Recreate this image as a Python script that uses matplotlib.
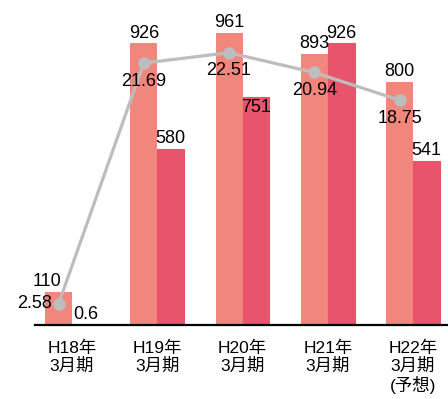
import matplotlib
matplotlib.use("Agg")
import matplotlib.pyplot as plt
import numpy as np

plt.rcParams['font.family'] = ['Liberation Sans', 'Noto Sans CJK JP', 'DejaVu Sans']

# 決算期ごとの値
periods = ["H18年\n3月期", "H19年\n3月期", "H20年\n3月期", "H21年\n3月期", "H22年\n3月期\n(予想)"]
sales = [110, 926, 961, 893, 800]
profit = [0.6, 580, 751, 926, 541]
ratio = [2.58, 21.69, 22.51, 20.94, 18.75]

c_sales = "#F0867C"
c_profit = "#E8546C"
c_line = "#BDBDBD"

fig = plt.figure(figsize=(4.48, 3.99), dpi=100)
ax = fig.add_axes([35 / 448, 74 / 399, 413 / 448, 325 / 399])

x = np.arange(len(periods))
w = 0.316
b1 = ax.bar(x - w / 2, sales, w, color=c_sales, zorder=2)
b2 = ax.bar(x + w / 2, profit, w, color=c_profit, edgecolor=c_profit,
            linewidth=0.8, zorder=2)

ax.set_xlim(-0.434, 4.41)
ax.set_ylim(0, 1069)
for s in ["top", "right", "left"]:
    ax.spines[s].set_visible(False)
ax.spines["bottom"].set_linewidth(1.6)
ax.set_yticks([])
ax.set_xticks(x)
ax.set_xticklabels(periods, fontsize=12.5, linespacing=1.15)
ax.tick_params(axis="x", length=0, pad=11)

# 棒グラフの数値ラベル
fs = 13
for i, v in enumerate(sales):
    dx = -8 if i == 0 else 0
    ax.annotate(f"{v}", (x[i] - w / 2, v), xytext=(dx, 1), textcoords="offset points",
                ha="center", va="bottom", fontsize=fs, zorder=5)
for i, v in enumerate(profit):
    if i == 2:
        ax.annotate(f"{v}", (x[i] + w / 2, v), xytext=(0, -1.5), textcoords="offset points",
                    ha="center", va="top", fontsize=fs, zorder=5)
    else:
        ax.annotate(f"{v:g}", (x[i] + w / 2, v), xytext=(0, 1), textcoords="offset points",
                    ha="center", va="bottom", fontsize=fs, zorder=5)

# 比率の折れ線(右軸)
ax2 = ax.twinx()
ax2.set_ylim(0.912, 26.69)
ax2.axis("off")
ax2.plot(x - w / 2, ratio, color=c_line, lw=2.3, marker="o", ms=8, zorder=3)
for i, v in enumerate(ratio):
    if i == 0:
        ax2.annotate(f"{v}", (x[i] - w / 2, v), xytext=(-5, 0), textcoords="offset points",
                     ha="right", va="center", fontsize=fs)
    else:
        ax2.annotate(f"{v}", (x[i] - w / 2, v), xytext=(0, -7), textcoords="offset points",
                     ha="center", va="top", fontsize=fs)

fig.savefig("out.png", dpi=100)
